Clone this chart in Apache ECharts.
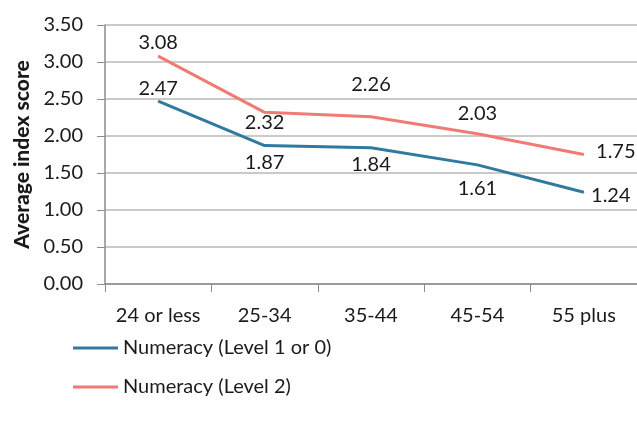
<!DOCTYPE html>
<html>
<head>
<meta charset="utf-8">
<script src="https://cdn.jsdelivr.net/npm/echarts@6/dist/echarts.min.js"></script>
<style>
  html, body { margin: 0; padding: 0; background: #fff; }
  #chart { width: 637px; height: 424px; }
</style>
</head>
<body>
<div id="chart"></div>
<script>
// Age groups along the x axis
const ageGroups = ['24 or less', '25-34', '35-44', '45-54', '55 plus'];

// Average index score per age group
const level1or0 = [2.47, 1.87, 1.84, 1.61, 1.24];
const level2 = [3.08, 2.32, 2.26, 2.03, 1.75];

const seriesNames = ['Numeracy (Level 1 or 0)', 'Numeracy (Level 2)'];

// Where each value label sits relative to its point: [dx, dy] of the text centre
const level1or0LabelOffsets = [[0, -13], [0, 17], [0, 17], [0, 24], [27, 3]];
const level2LabelOffsets = [[0, -14], [0, 10], [0, -32], [0, -20], [32, -3]];

const FONT = 'Lato, "Open Sans", sans-serif';
const TEXT = '#1a1a1a';

function withLabels(values, offsets) {
  return values.map((v, i) => ({
    value: v,
    label: { offset: offsets[i] }
  }));
}

function lineSeries(name, values, offsets, color) {
  return {
    name: name,
    type: 'line',
    data: withLabels(values, offsets),
    symbol: 'circle',
    symbolSize: 1,
    showSymbol: true,
    lineStyle: { color: color, width: 3 },
    itemStyle: { color: color },
    label: {
      show: true,
      position: 'inside',
      formatter: p => p.value.toFixed(2),
      fontFamily: FONT,
      fontSize: 20,
      color: TEXT,
      align: 'center',
      verticalAlign: 'middle'
    },
    emphasis: { disabled: true },
    animation: false
  };
}

const chart = echarts.init(document.getElementById('chart'), null, { renderer: 'canvas' });

chart.setOption({
  backgroundColor: '#ffffff',
  animation: false,
  grid: { left: 105, right: 0, top: 25, bottom: 140, containLabel: false },
  legend: {
    orient: 'vertical',
    left: 73,
    top: 336,
    padding: 0,
    icon: 'rect',
    itemWidth: 45,
    itemHeight: 3,
    itemGap: 15,
    data: seriesNames,
    textStyle: { fontFamily: FONT, fontSize: 20, color: TEXT, lineHeight: 24 }
  },
  xAxis: {
    type: 'category',
    data: ageGroups,
    boundaryGap: true,
    axisLine: { lineStyle: { color: '#8c8c8c', width: 1.5 } },
    axisTick: { show: true, length: 8, lineStyle: { color: '#8c8c8c', width: 1 } },
    axisLabel: { interval: 0, margin: 22, fontFamily: FONT, fontSize: 20, color: TEXT }
  },
  yAxis: {
    type: 'value',
    min: 0,
    max: 3.5,
    interval: 0.5,
    name: 'Average index score',
    nameLocation: 'middle',
    nameGap: 67,
    nameRotate: 90,
    nameTextStyle: { fontFamily: FONT, fontSize: 21, fontWeight: 900, color: TEXT },
    axisLine: { show: true, lineStyle: { color: '#8c8c8c', width: 1.5 } },
    axisTick: { show: true, length: 8, lineStyle: { color: '#8c8c8c', width: 1 } },
    splitLine: { show: true, lineStyle: { color: '#b8b8b8', width: 1.5 } },
    axisLabel: {
      margin: 22,
      formatter: v => v.toFixed(2),
      fontFamily: FONT,
      fontSize: 20,
      color: TEXT
    }
  },
  series: [
    lineSeries(seriesNames[0], level1or0, level1or0LabelOffsets, '#317a9f'),
    lineSeries(seriesNames[1], level2, level2LabelOffsets, '#f07b73')
  ]
});
</script>
</body>
</html>
